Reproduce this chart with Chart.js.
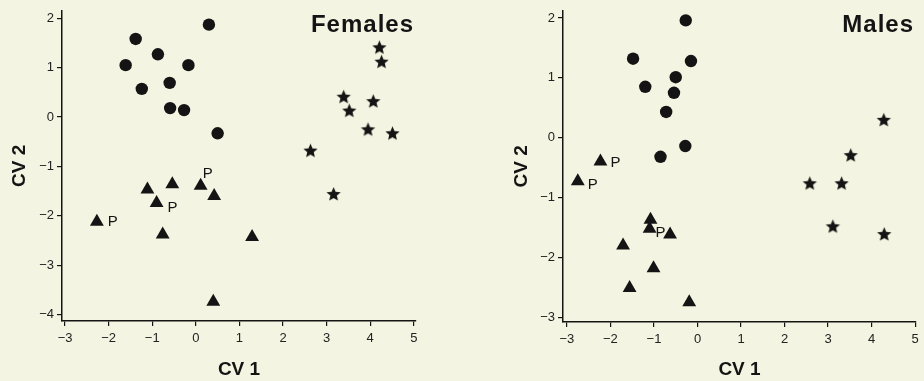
<!DOCTYPE html>
<html>
<head>
<meta charset="utf-8">
<script src="https://cdn.jsdelivr.net/npm/chart.js@4.4.1/dist/chart.umd.min.js"></script>
<style>
  html, body { margin: 0; padding: 0; background: #f4f4e2; }
  #wrap { position: relative; width: 924px; height: 381px; overflow: hidden; }
  canvas { position: absolute; top: 0; }
</style>
</head>
<body>
<div id="wrap">
  <canvas id="fem" width="462" height="381" style="left:0"></canvas>
  <canvas id="mal" width="462" height="381" style="left:462px"></canvas>
</div>
<script>
  // --- Females: CV1 / CV2 scores ---
  const femCircleX = [0.30, -1.38, -0.87, -1.61, -0.17, -1.24, -0.60, -0.59, -0.27, 0.50];
  const femCircleY = [1.87, 1.58, 1.27, 1.05, 1.05, 0.57, 0.69, 0.18, 0.14, -0.33];

  const femTriX = [-2.27, -1.11, -0.90, -0.76, -0.54, 0.11, 0.42, 0.40, 1.29];
  const femTriY = [-2.12, -1.47, -1.74, -2.38, -1.36, -1.39, -1.60, -3.74, -2.43];
  const femTriTags = ["P", "", "P", "", "", "P", "", "", ""];

  const femStarX = [4.21, 4.26, 3.39, 3.52, 4.07, 3.95, 4.51, 2.63, 3.16];
  const femStarY = [1.40, 1.11, 0.40, 0.12, 0.31, -0.26, -0.34, -0.69, -1.57];

  // --- Males ---
  const malCircleX = [-0.27, -1.48, -0.15, -0.50, -1.20, -0.54, -0.72, -0.28, -0.85];
  const malCircleY = [1.96, 1.32, 1.28, 1.01, 0.85, 0.75, 0.43, -0.14, -0.32];

  const malTriX = [-2.23, -2.75, -1.08, -1.10, -0.63, -1.71, -1.01, -1.56, -0.19];
  const malTriY = [-0.40, -0.73, -1.37, -1.52, -1.62, -1.80, -2.18, -2.51, -2.75];
  const malTriTags = ["P", "P", "", "P", "", "", "", "", ""];

  const malStarX = [4.28, 3.52, 2.58, 3.31, 3.11, 4.29];
  const malStarY = [0.29, -0.30, -0.77, -0.77, -1.49, -1.62];

  const xTitle = "CV 1";
  const yTitle = "CV 2";

  const INK = "#141414";
  const FONT = '"Liberation Sans", Arial, Helvetica, sans-serif';

  const pts = (xs, ys) => xs.map((x, i) => ({ x: x, y: ys[i] }));
  const fmtTick = v => v < 0 ? "\u2212" + Math.abs(v) : String(v);

  function makeStar(r) {
    const s = Math.ceil(r * 2) + 2;
    const c = document.createElement("canvas");
    c.width = c.height = s;
    const g = c.getContext("2d");
    g.fillStyle = INK;
    g.beginPath();
    for (let i = 0; i < 10; i++) {
      const rad = i % 2 ? r * 0.45 : r;
      const a = -Math.PI / 2 + i * Math.PI / 5;
      const px = s / 2 + Math.cos(a) * rad, py = s / 2 + Math.sin(a) * rad;
      if (i === 0) g.moveTo(px, py); else g.lineTo(px, py);
    }
    g.closePath();
    g.fill();
    return c;
  }
  const starImg = makeStar(7.5);

  // panel heading ("Females" / "Males") in the top-right corner of the plot
  const panelTitle = {
    id: "panelTitle",
    afterDraw(chart, args, opts) {
      const { ctx, chartArea } = chart;
      ctx.save();
      ctx.font = "bold 24px " + FONT;
      ctx.letterSpacing = "1px";
      ctx.textAlign = "right";
      ctx.textBaseline = "alphabetic";
      ctx.fillStyle = INK;
      ctx.fillText(opts.text, chartArea.right - 2, 32);
      ctx.restore();
    }
  };

  // "P" tags next to some triangles
  const pointTags = {
    id: "pointTags",
    afterDatasetsDraw(chart, args, opts) {
      const ctx = chart.ctx;
      let k = 0;
      ctx.save();
      ctx.font = "15px " + FONT;
      ctx.textAlign = "center";
      ctx.textBaseline = "middle";
      ctx.fillStyle = INK;
      chart.data.datasets.forEach((ds, i) => {
        if (!ds.tags) return;
        const meta = chart.getDatasetMeta(i);
        ds.tags.forEach((t, j) => {
          if (!t) return;
          const el = meta.data[j];
          const off = opts.offsets[k++] || [15, 0];
          ctx.fillText(t, el.x + off[0], el.y + off[1]);
        });
      });
      ctx.restore();
    }
  };

  function makeScales(xr, yr, yWidth, xHeight, yTitlePad) {
    const grid = { drawOnChartArea: false, tickLength: 5, color: INK, lineWidth: 1.2 };
    const border = { color: INK, width: 1.5 };
    const onlyInts = s => { s.ticks = s.ticks.filter(t => Number.isInteger(t.value)); };
    return {
      x: {
        type: "linear", min: xr[0], max: xr[1],
        afterFit: s => { s.height = xHeight; },
        afterBuildTicks: onlyInts,
        ticks: { stepSize: 1, includeBounds: false, padding: 5, color: "#222", font: { family: FONT, size: 13 }, callback: fmtTick },
        grid: grid, border: border,
        title: { display: true, text: xTitle, color: INK, font: { family: FONT, size: 19, weight: "bold" }, padding: { top: 0, bottom: 0 } }
      },
      y: {
        type: "linear", min: yr[0], max: yr[1],
        afterFit: s => { s.width = yWidth; },
        afterBuildTicks: onlyInts,
        ticks: { stepSize: 1, includeBounds: false, padding: 3, color: "#222", font: { family: FONT, size: 13 }, callback: fmtTick },
        grid: grid, border: border,
        title: { display: true, text: yTitle, color: INK, font: { family: FONT, size: 19, weight: "bold" }, padding: { top: yTitlePad, bottom: 0 } }
      }
    };
  }

  function makeDatasets(cx, cy, tx, ty, tags, sx, sy) {
    const base = { backgroundColor: INK, borderColor: INK, borderWidth: 0, clip: false };
    return [
      Object.assign({ label: "circle", data: pts(cx, cy), pointStyle: "circle", pointRadius: 6.2 }, base),
      Object.assign({ label: "triangle", data: pts(tx, ty), pointStyle: "triangle", pointRadius: 8, tags: tags }, base),
      Object.assign({ label: "star", data: pts(sx, sy), pointStyle: starImg, pointRadius: 7.5 }, base)
    ];
  }

  function makeChart(id, datasets, scales, pad, title, offsets) {
    return new Chart(document.getElementById(id), {
      type: "scatter",
      data: { datasets: datasets },
      options: {
        responsive: false,
        animation: false,
        events: [],
        layout: { padding: pad },
        scales: scales,
        plugins: {
          legend: { display: false },
          tooltip: { enabled: false },
          panelTitle: { text: title },
          pointTags: { offsets: offsets }
        }
      },
      plugins: [panelTitle, pointTags]
    });
  }

  makeChart("fem",
    makeDatasets(femCircleX, femCircleY, femTriX, femTriY, femTriTags, femStarX, femStarY),
    makeScales([-3.07, 5.05], [-4.13, 2.15], 62, 60, 8),
    { top: 7, left: 0, right: 46, bottom: 0 },
    "Females",
    [[16, 0], [16, 5], [7, -12]]);

  makeChart("mal",
    makeDatasets(malCircleX, malCircleY, malTriX, malTriY, malTriTags, malStarX, malStarY),
    makeScales([-3.09, 5.02], [-3.08, 2.12], 101, 59, 48),
    { top: 9, left: 0, right: 6, bottom: 0 },
    "Males",
    [[15, 1], [15, 3], [11, 4]]);
</script>
</body>
</html>
